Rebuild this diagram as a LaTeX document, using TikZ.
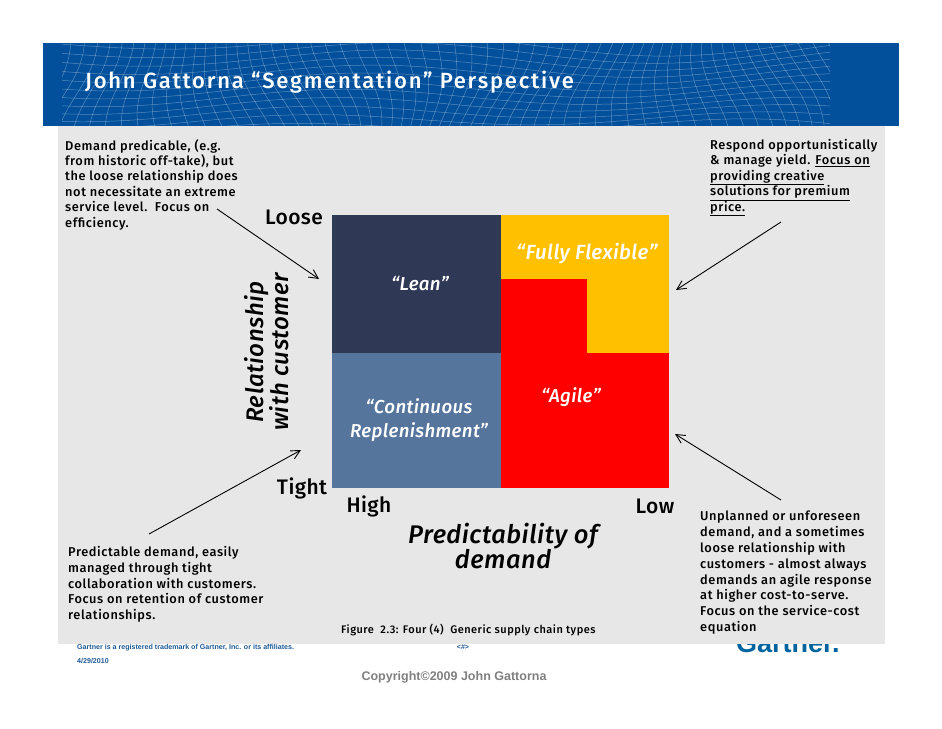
\documentclass[tikz,border=0pt]{standalone}
\usepackage{fontspec}
\setmainfont{Fira Sans}
\newfontfamily\comic[LetterSpace=4.5]{Fira Sans Medium}
\newfontfamily\comicb[LetterSpace=2]{Fira Sans Medium}
\newfontfamily\comict[LetterSpace=8]{Fira Sans Medium}
\newfontfamily\arialf{Liberation Sans}
\usetikzlibrary{arrows.meta}
\definecolor{bannerblue}{RGB}{2,80,156}
\definecolor{panelgrey}{RGB}{231,231,231}
\definecolor{navy}{RGB}{47,56,84}
\definecolor{steel}{RGB}{86,117,157}
\definecolor{amber}{RGB}{255,192,0}
\definecolor{logoblue}{RGB}{0,100,160}
\definecolor{footblue}{RGB}{30,90,150}
\tikzset{
 note/.style={inner sep=0pt,align=left,font=\fontsize{12.8}{15.4}\selectfont\comic,anchor=north west,text=black},
 notewide/.style={note,font=\fontsize{12.8}{15.8}\selectfont\comic},
 axislabel/.style={inner sep=0pt,font=\fontsize{21}{24}\selectfont\comicb,text=black},
 quad/.style={inner sep=0pt,align=center,font=\fontsize{18.7}{23.5}\selectfont\itshape\comicb},
 pointer/.style={draw=black,line width=0.9pt,-{Straight Barb[length=9pt,width=9pt,line width=0.9pt]}},
 mesh/.style={draw=white,opacity=0.33,line width=0.5pt},
 foot/.style={inner sep=0pt,anchor=west,font=\fontsize{7.1}{9}\selectfont\arialf\bfseries,text=footblue},
}
\begin{document}
\begin{tikzpicture}[x=1pt,y=-1pt]
\useasboundingbox (0,0) rectangle (942,728);
\fill[white] (0,0) rectangle (942,728);
% logo behind panel
\node[inner sep=0pt,anchor=base west,font=\fontsize{27}{27}\selectfont\arialf\bfseries,text=logoblue] (logo) at (736,652) {Gartner.};
% banner
\fill[bannerblue] (43,43) rectangle (899,126);
\begin{scope}
\clip (62,43) rectangle (830,126);
\foreach \k in {0,...,62}{
  \draw[mesh] plot[domain=0:1,samples=16,smooth] ({40+\k*13.2+(0.5-\x)*34*cos(\k*9.5)+6*sin(\x*240+\k*11)},{41+\x*88});
}
\foreach \k in {0,...,11}{
  \draw[mesh] plot[domain=0:1,samples=60,smooth] ({60+\x*775},{44+\k*7.6+(\k-5)*0.9*sin(\x*400)+9*sin(\x*560+\k*10)});
}
\end{scope}
% panel
\fill[panelgrey] (58,126) rectangle (885,644);
% title
\node[inner sep=0pt,anchor=base west,text=white,font=\fontsize{22}{24}\selectfont\comict] (title) at (85,88) {John Gattorna “Segmentation” Perspective};
% quadrants
\fill[navy] (332,215) rectangle (501,353);
\fill[steel] (332,353) rectangle (501,488);
\fill[amber] (501,215) rectangle (669,353);
\fill[red] (501,353) rectangle (669,488);
\fill[red] (501,279) rectangle (587,353);
\node[quad,text=white] (lean) at (420,284) {“Lean”};
\node[quad,text=white,font=\fontsize{20.5}{23.5}\selectfont\itshape\comicb] (ff) at (587,254) {“Fully Flexible”};
\node[quad,text=white] (agile) at (571,397) {“Agile”};
\node[quad,text=white] (cr) at (419,420) {“Continuous\\Replenishment”};
% axes
\node[axislabel] (loose) at (294,217) {Loose};
\node[axislabel] (tight) at (302,488) {Tight};
\node[axislabel] (high) at (369,506) {High};
\node[axislabel] (low) at (655,506) {Low};
\node[inner sep=0pt,align=center,rotate=90,font=\fontsize{24}{25}\selectfont\itshape\comicb] (rel) at (267,352) {Relationship\\with customer};
\node[inner sep=0pt,align=center,font=\fontsize{25.5}{24}\selectfont\itshape\comicb] (pred) at (503,546) {Predictability of\\demand};
% notes
\node[note] (n1) at (65,139) {Demand predicable, (e.g.\\from historic off-take), but\\the loose relationship does\\not necessitate an extreme\\service level.\ \ Focus on\\efficiency.};
\node[note] (n2) at (710,139) {Respond opportunistically\\\& manage yield. \underline{Focus on}\\\underline{providing creative}\\\underline{solutions for premium}\\\underline{price.}};
\node[notewide] (n3) at (68,546) {Predictable demand, easily\\managed through tight\\collaboration with customers.\\Focus on retention of customer\\relationships.};
\node[notewide] (n4) at (700,511) {Unplanned or unforeseen\\demand, and a sometimes\\loose relationship with\\customers - almost always\\demands an agile response\\at higher cost-to-serve.\\Focus on the service-cost\\equation};
\node[inner sep=0pt,anchor=west,font=\fontsize{11}{12}\selectfont\comic] (fig) at (341,630) {Figure\ \ 2.3: Four (4)\ \ Generic supply chain types};
% pointers
\coordinate (a1s) at (217,209); \coordinate (a1e) at (319,279);
\coordinate (a2s) at (781,222); \coordinate (a2e) at (676,290);
\coordinate (a3s) at (149,534); \coordinate (a3e) at (301,450);
\coordinate (a4s) at (781,500); \coordinate (a4e) at (675,434);
\draw[pointer] (a1s) -- (a1e);
\draw[pointer] (a2s) -- (a2e);
\draw[pointer] (a3s) -- (a3e);
\draw[pointer] (a4s) -- (a4e);
% footer
\node[foot] (f1) at (77,648) {Gartner is a registered trademark of Gartner, Inc. or its affiliates.};
\node[foot] (f2) at (77,661) {4/29/2010};
\node[foot,anchor=center] (f3) at (463,647) {<\#>};
\node[inner sep=0pt,font=\fontsize{12.5}{14}\selectfont\arialf\bfseries,text=black!50] (copy) at (454,677) {Copyright©2009 John Gattorna};
\end{tikzpicture}
\end{document}
